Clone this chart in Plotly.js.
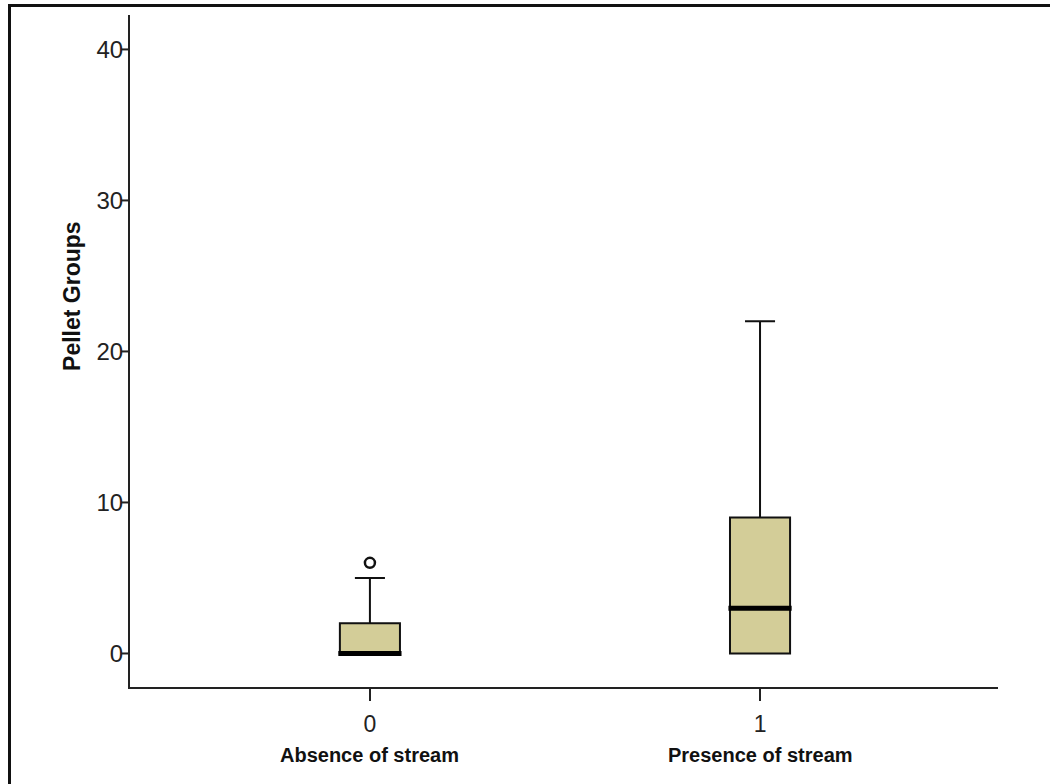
<!DOCTYPE html>
<html>
<head>
<meta charset="utf-8">
<script src="https://cdn.plot.ly/plotly-3.0.1.min.js"></script>
<style>
  html, body { margin: 0; padding: 0; background: #fff; }
  #wrap { position: relative; width: 1050px; height: 784px; overflow: hidden; }
  #chart { position: absolute; left: 0; top: 0; width: 1050px; height: 784px; }
  #frame { position: absolute; left: 8px; top: 4px; width: 1100px; height: 900px;
           border-left: 3px solid #111; border-top: 3px solid #111; pointer-events: none; }
</style>
</head>
<body>
<div id="wrap">
  <div id="chart"></div>
  <div id="frame"></div>
</div>
<script>
// ---- data ----
const groups = [0, 1];
const groupTickText = ['0', '1'];
const groupNames = ['Absence of stream', 'Presence of stream'];
const q1 = [0, 0];
const median = [0, 3];
const q3 = [2, 9];
const lowerWhisker = [0, 0];
const upperWhisker = [5, 22];
const outlierX = [0];
const outlierY = [6];
const yTickVals = [0, 10, 20, 30, 40];
const yTitle = 'Pellet Groups';

// ---- styling ----
const boxWidth = 0.154;
const fill = 'rgb(211,205,152)';
const font = 'Liberation Sans, Arial, sans-serif';
const yRange = [-2.22, 42.28];
const plotW = 868;

const boxTrace = {
  type: 'box',
  x: groups,
  q1: q1,
  median: median,
  q3: q3,
  lowerfence: lowerWhisker,
  upperfence: upperWhisker,
  width: boxWidth,
  whiskerwidth: 0.5,
  fillcolor: fill,
  line: { color: '#111', width: 2 },
  boxpoints: false,
  hoverinfo: 'skip',
  showlegend: false
};

const outlierTrace = {
  type: 'scatter',
  mode: 'markers',
  x: outlierX,
  y: outlierY,
  marker: { symbol: 'circle-open', size: 10, color: '#111', line: { width: 2.5, color: '#111' } },
  showlegend: false,
  hoverinfo: 'skip'
};

const medianShapes = groups.map((g, i) => ({
  type: 'line', xref: 'x', yref: 'y',
  x0: g - boxWidth / 2 - 0.004, x1: g + boxWidth / 2 + 0.004,
  y0: median[i], y1: median[i],
  line: { color: '#000', width: 5 }
}));

// y tick marks drawn on the left of the axis, so the labels can sit over them
const yTickShapes = yTickVals.map(v => ({
  type: 'line', xref: 'paper', yref: 'y',
  x0: -9 / plotW, x1: 0, y0: v, y1: v,
  line: { color: '#222', width: 2 }
}));

const nameAnnotations = groups.map((g, i) => ({
  x: g, xref: 'x', y: -0.101, yref: 'paper',
  text: '<b>' + groupNames[i] + '</b>',
  showarrow: false, xanchor: 'center', yanchor: 'middle',
  font: { family: font, size: 20, color: '#111' }
}));

const layout = {
  width: 1050, height: 784,
  margin: { l: 130, r: 52, t: 15, b: 97 },
  paper_bgcolor: '#fff', plot_bgcolor: '#fff',
  showlegend: false,
  xaxis: {
    range: [-0.615, 1.610],
    tickvals: groups, ticktext: groupTickText,
    ticks: 'outside', ticklen: 12, tickwidth: 2, tickcolor: '#222',
    showline: true, linecolor: '#222', linewidth: 2,
    showgrid: false, zeroline: false,
    tickfont: { family: font, size: 23, color: '#222' },
    ticklabelstandoff: 3
  },
  yaxis: {
    range: yRange,
    tickvals: yTickVals,
    ticks: '',
    showline: true, linecolor: '#222', linewidth: 2,
    showgrid: false, zeroline: false,
    tickfont: { family: font, size: 24, color: '#222' },
    ticklabelstandoff: 0
  },
  shapes: medianShapes.concat(yTickShapes),
  annotations: nameAnnotations.concat([{
    x: -0.0668, xref: 'paper', y: 0.582, yref: 'paper',
    text: '<b>' + yTitle + '</b>', textangle: -90,
    showarrow: false, xanchor: 'center', yanchor: 'middle',
    font: { family: font, size: 23, color: '#111' }
  }])
};

Plotly.newPlot('chart', [boxTrace, outlierTrace], layout, { staticPlot: true, displayModeBar: false });
</script>
</body>
</html>
